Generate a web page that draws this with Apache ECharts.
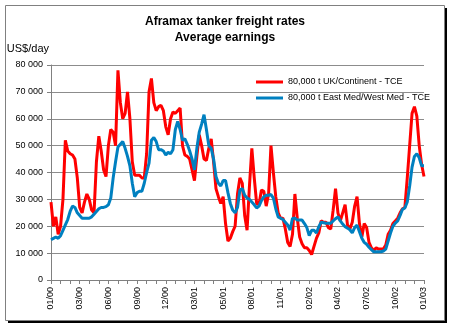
<!DOCTYPE html>
<html>
<head>
<meta charset="utf-8">
<script src="https://cdn.jsdelivr.net/npm/echarts@6/dist/echarts.min.js"></script>
<style>
html,body{margin:0;padding:0;background:#fff;}
#chart{width:452px;height:328px;}
</style>
</head>
<body>
<div id="chart"></div>
<script>
const titleText = 'Aframax tanker freight rates\nAverage earnings';
const yAxisName = 'US$/day';
const seriesNames = ['80,000 t UK/Continent - TCE', '80,000 t East Med/West Med - TCE'];
const tickLabels = ['01/00','03/00','06/00','09/00','12/00','03/01','05/01','08/01','11/01','02/02','04/02','07/02','10/02','01/03'];
const yTicks = [0, 10000, 20000, 30000, 40000, 50000, 60000, 70000, 80000];

// weekly values, Jan 2000 - Jan 2003
const ukCont = [
  29000, 20000, 23500, 17000, 20000, 30000, 52000, 48000, 47000, 46500,
  45000, 38000, 27000, 25000, 29000, 32000, 30000, 26000, 25000, 44000,
  53500, 48000, 41000, 38500, 50000, 56000, 55000, 50000, 78000, 66000,
  60000, 62000, 70000, 60000, 44000, 39000, 39000, 39000, 38000, 38000,
  47000, 70000, 75000, 66000, 63000, 64500, 65000, 63000, 57000, 54000,
  60000, 62500, 62000, 63000, 64000, 50000, 46500, 46000, 45000, 41000,
  37000, 46000, 54000, 50000, 45000, 44500, 49000, 52500, 44000, 34000,
  31000, 28500, 31000, 21000, 14500, 15500, 18000, 20000, 32000, 38000,
  36000, 24000, 18500, 35000, 49000, 38000, 28500, 28000, 33500, 33000,
  27500, 32000, 50000, 40000, 31000, 25000, 23000, 23000, 19000, 14000,
  12500, 17000, 32000, 23000, 16000, 13500, 12000, 12000, 11000, 9500,
  12500, 15500, 17500, 22000, 21500, 21500, 19500, 19000, 26000, 34000,
  25000, 22000, 25000, 28000, 20500, 19000, 21500, 27500, 31000, 21000,
  16000, 21000, 19500, 14000, 12000, 11000, 12000, 11500, 11500, 11500,
  13000, 17000, 18500, 21000, 22000, 23000, 25000, 26500, 27000, 38000,
  50000, 62000, 64500, 61000, 50000, 43000, 38500
];
const eastMed = [
  15000, 15500, 16000, 15500, 16500, 18500, 20500, 22500, 25500, 27500,
  27000, 25000, 24000, 23000, 23000, 23000, 23000, 23500, 24500, 25500,
  26500, 27000, 27000, 27300, 28000, 30500, 38000, 44000, 49500, 50500,
  51500, 49000, 46000, 42500, 36000, 31000, 32500, 33000, 33000, 36000,
  40000, 43500, 52000, 53000, 51500, 48500, 48500, 48000, 46500, 47500,
  47000, 48500, 56000, 59000, 56000, 52000, 52500, 50500, 48000, 45000,
  41000, 49000, 55000, 58000, 61500, 56000, 50000, 49000, 45000, 38500,
  36000, 35000, 37000, 37000, 32500, 28500, 26000, 25000, 27000, 33500,
  34000, 31500, 30500, 30000, 29000, 28000, 26800, 27500, 29500, 31000,
  31500, 31500, 31800, 30500, 26500, 23500, 23000, 22500, 21500, 20500,
  18600, 23000, 23000, 22300, 22300, 22300, 21000, 19500, 16500, 18500,
  18500, 17500, 19800, 21500, 21300, 21100, 21100, 21100, 22000, 22800,
  23500, 22000, 20800, 19800, 19300, 18700, 17500, 19500, 20400, 18000,
  15500, 14000, 13300, 12200, 11300, 10500, 10500, 10500, 10500, 10800,
  11500, 14500, 17500, 20000, 21200, 22000, 24000, 26300, 26800, 29000,
  35000, 42000, 46000, 47000, 45500, 42500, 42500
];

const weeks = ukCont.map((_, i) => i);
const FONT = '"Liberation Sans", Arial, sans-serif';

const chart = echarts.init(document.getElementById('chart'), null, {renderer: 'canvas'});
chart.setOption({
  animation: false,
  backgroundColor: '#ffffff',
  graphic: [
    {type: 'rect', z: -10, silent: true, shape: {x: 8, y: 8, width: 439, height: 315}, style: {fill: '#000000'}},
    {type: 'rect', z: -9, silent: true, shape: {x: 5.5, y: 5.5, width: 439, height: 315}, style: {fill: '#ffffff', stroke: '#808080', lineWidth: 1}}
  ],
  title: {
    text: titleText,
    left: 225,
    textAlign: 'center',
    top: 14,
    padding: 0,
    textStyle: {fontFamily: FONT, fontSize: 12, fontWeight: 'bold', color: '#000', lineHeight: 16}
  },
  legend: {
    orient: 'vertical',
    left: 256,
    top: 76,
    padding: 0,
    itemGap: 4,
    itemWidth: 27,
    itemHeight: 3,
    icon: 'rect',
    textStyle: {fontFamily: FONT, fontSize: 9, color: '#000', lineHeight: 12},
    data: seriesNames
  },
  grid: {left: 51, right: 28, top: 65, bottom: 48, containLabel: false},
  xAxis: {
    type: 'category',
    data: weeks,
    boundaryGap: false,
    axisLine: {lineStyle: {color: '#808080', width: 1}},
    axisTick: {show: true, interval: 3, length: 4, lineStyle: {color: '#808080'}},
    axisLabel: {
      interval: 11,
      rotate: 90,
      margin: 7,
      fontFamily: FONT,
      fontSize: 9,
      color: '#000',
      formatter: (v, idx) => (idx % 12 === 0 ? tickLabels[idx / 12] : '')
    },
    splitLine: {show: false}
  },
  yAxis: {
    type: 'value',
    min: yTicks[0],
    max: yTicks[yTicks.length - 1],
    interval: 10000,
    name: yAxisName,
    nameLocation: 'end',
    nameGap: 16,
    nameTextStyle: {fontFamily: FONT, fontSize: 11, color: '#000', align: 'right', verticalAlign: 'middle', padding: [0, 2, 0, 0]},
    axisLine: {show: true, lineStyle: {color: '#808080', width: 1}},
    axisTick: {show: true, length: 4, lineStyle: {color: '#808080'}},
    axisLabel: {
      margin: 8,
      fontFamily: FONT,
      fontSize: 9,
      color: '#000',
      formatter: v => String(v).replace(/\B(?=(\d{3})+(?!\d))/g, ' ')
    },
    splitLine: {show: true, lineStyle: {color: '#8c8c8c', width: 1}}
  },
  series: [
    {name: seriesNames[0], type: 'line', data: ukCont, showSymbol: false, symbol: 'none', lineStyle: {color: '#ff0000', width: 3}, itemStyle: {color: '#ff0000'}},
    {name: seriesNames[1], type: 'line', data: eastMed, showSymbol: false, symbol: 'none', lineStyle: {color: '#0080c0', width: 3}, itemStyle: {color: '#0080c0'}}
  ]
});
</script>
</body>
</html>
